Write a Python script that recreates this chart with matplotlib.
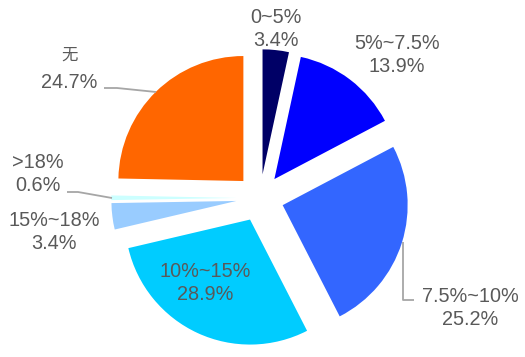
import matplotlib
matplotlib.use("Agg")
import matplotlib.pyplot as plt

# 数据
categories = ["0~5%", "5%~7.5%", "7.5%~10%", "10%~15%", "15%~18%", ">18%", "无"]
shares = [3.4, 13.9, 25.2, 28.9, 3.4, 0.6, 24.7]
colors = ["#000066", "#0000FF", "#3366FF", "#00CCFF", "#99CCFF", "#CCFFFF", "#FF6600"]

# 画布: 525x357 像素, 饼图圆心在 (260, 198) 像素, 半径 125 像素
W, H = 525, 357
cx, cy, R = 260, 198, 125


def px(x, y):
    # 像素坐标 -> 数据坐标
    return (x - cx) / R, (cy - y) / R


fig = plt.figure(figsize=(W / 100, H / 100), dpi=100)
ax = fig.add_axes([0, 0, 1, 1])

ax.pie(shares, colors=colors, startangle=90, counterclock=False,
       explode=[0.19] * len(shares), radius=1,
       wedgeprops=dict(linewidth=0))

ax.set_xlim(-cx / R, (W - cx) / R)
ax.set_ylim(-(H - cy) / R, cy / R)
ax.axis("off")

font = ["Liberation Sans", "Noto Sans CJK SC", "DejaVu Sans"]
txt_color = "#595959"
fs = 14.3

# 标签位置 (像素)
label_pos = {
    "0~5%": (276, 29),
    "5%~7.5%": (397, 55),
    "7.5%~10%": (470, 308),
    "10%~15%": (205, 283),
    "15%~18%": (54, 232),
    ">18%": (38, 174),
}
for cat, val in zip(categories, shares):
    if cat in label_pos:
        x, y = px(*label_pos[cat])
        ax.text(x, y, "%s\n%.1f%%" % (cat, val), ha="center", va="center",
                fontsize=fs, color=txt_color, family=font, linespacing=1.22)

# "无" 单独放, 行距更大
x, y = px(70, 55)
ax.text(x, y, categories[-1], ha="center", va="center", fontsize=fs - 2.5,
        color=txt_color, family=["Noto Sans CJK SC"])
x, y = px(69, 83)
ax.text(x, y, "%.1f%%" % shares[-1], ha="center", va="center", fontsize=fs,
        color=txt_color, family=font)

# 引导线
leaders = [
    [(104, 88), (117, 88), (156, 92)],
    [(67, 192), (78, 192), (112, 198)],
    [(403, 242), (403, 300), (414, 300)],
]
for pts in leaders:
    xs, ys = zip(*[px(a, b) for a, b in pts])
    ax.plot(xs, ys, color="#A6A6A6", linewidth=1.3, solid_capstyle="butt")

fig.savefig("out.png", dpi=100)
